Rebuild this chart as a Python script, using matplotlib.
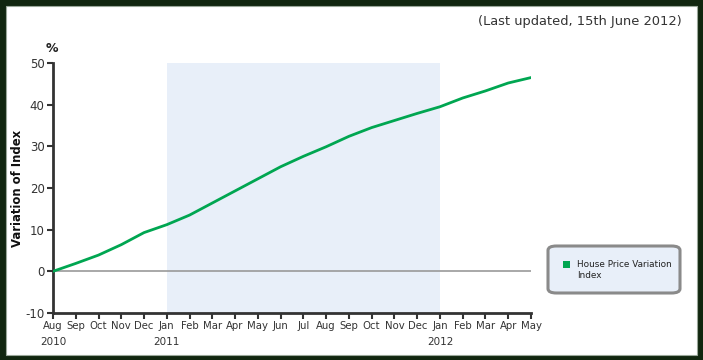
import matplotlib
matplotlib.use("Agg")
import matplotlib.pyplot as plt
from matplotlib.patches import Rectangle, FancyBboxPatch

plt.rcParams["axes.unicode_minus"] = False

months = ["Aug", "Sep", "Oct", "Nov", "Dec", "Jan", "Feb", "Mar", "Apr", "May", "Jun",
          "Jul", "Aug", "Sep", "Oct", "Nov", "Dec", "Jan", "Feb", "Mar", "Apr", "May"]
years = {0: "2010", 5: "2011", 17: "2012"}
values = [0.0, 1.9, 3.9, 6.4, 9.3, 11.2, 13.5, 16.4, 19.3, 22.2, 25.1,
          27.6, 29.9, 32.4, 34.5, 36.2, 37.9, 39.5, 41.6, 43.3, 45.2, 46.5]
shade_start, shade_end = 5, 17
series_name = "House Price Variation\nIndex"

W, H = 703, 360
fig = plt.figure(figsize=(W / 100, H / 100), dpi=100)
fig.patch.set_facecolor("#11260f")
fig.patches.append(Rectangle((6 / W, 5 / H), 691 / W, 349 / H, transform=fig.transFigure,
                             facecolor="white", edgecolor="#9aa79a", linewidth=0.8,
                             zorder=-5))

ax = fig.add_axes([53 / W, (H - 313) / H, 478 / W, 250 / H])
ax.set_facecolor("none")
x = list(range(len(values)))
ax.axvspan(shade_start, shade_end, color="#e8eff9", zorder=0, lw=0)
ax.axhline(0, color="#999999", lw=1.2, zorder=1)
ax.plot(x, values, color="#00a651", lw=2, zorder=3)
ax.set_xlim(0, len(values) - 1)
ax.set_ylim(-10, 50)
ax.set_yticks(range(-10, 51, 10))
ax.set_xticks(x)
ax.set_xticklabels(months)
for s in ["top", "right"]:
    ax.spines[s].set_visible(False)
for s in ["left", "bottom"]:
    ax.spines[s].set_color("#333333")
    ax.spines[s].set_linewidth(2)
ax.tick_params(axis="both", direction="out", length=4, width=1.5, color="#333333",
               labelcolor="#333333", labelsize=7.3, pad=2)
ax.tick_params(axis="y", labelsize=8.5)
for i, yr in years.items():
    ax.text(i, -0.095, yr, transform=ax.get_xaxis_transform(), ha="center", va="top",
            fontsize=7.5, color="#333333")

fig.text(682 / W, 1 - 21 / H, "(Last updated, 15th June 2012)", ha="right", va="center",
         fontsize=9.4, color="#333333")
fig.text(52 / W, 1 - 48 / H, "%", ha="center", va="center", fontsize=9, fontweight="bold",
         color="#222222")
fig.text(18 / W, 1 - 188 / H, "Variation of Index", rotation=90, ha="center", va="center",
         fontsize=8.4, fontweight="bold", color="#111111")

# legend box
fig.patches.append(FancyBboxPatch((548 / W, (H - 293) / H), 132 / W, 47 / H,
                                  boxstyle="round,pad=0,rounding_size=0.012",
                                  transform=fig.transFigure, facecolor="#e8eff9",
                                  edgecolor="#8a8a8a", linewidth=2.2, zorder=5))
fig.patches.append(Rectangle((563 / W, (H - 268) / H), 7 / W, 7 / H, transform=fig.transFigure,
                             facecolor="#00a651", edgecolor="none", zorder=6))
fig.text(577 / W, 1 - 270 / H, series_name, ha="left", va="center", fontsize=6.4,
         color="#222222", linespacing=1.15, zorder=7)

fig.savefig("out.png", dpi=100, facecolor=fig.get_facecolor())
